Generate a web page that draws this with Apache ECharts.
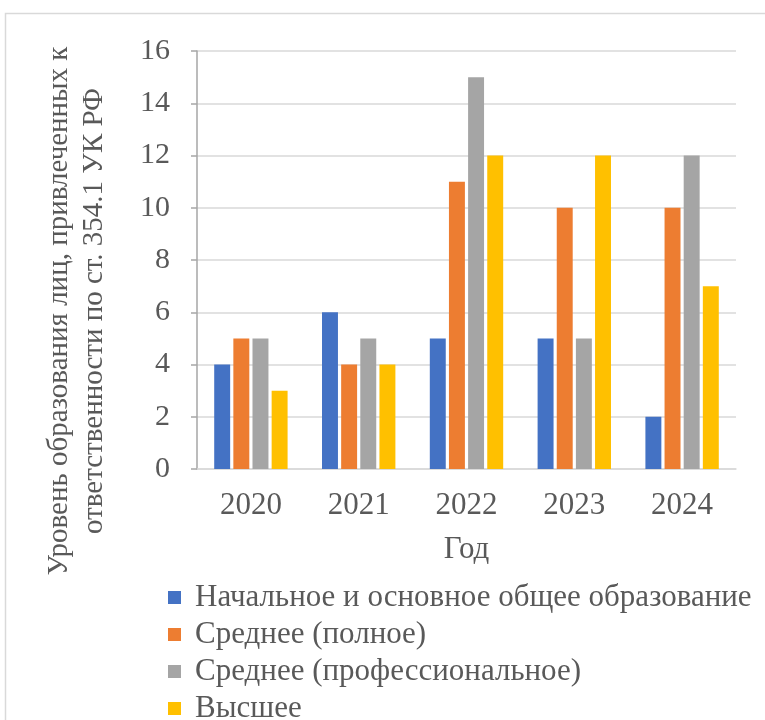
<!DOCTYPE html>
<html>
<head>
<meta charset="utf-8">
<script src="https://cdn.jsdelivr.net/npm/echarts@6/dist/echarts.min.js"></script>
<style>html,body{margin:0;padding:0;background:#fff;}#c{width:765px;height:720px;}</style>
</head>
<body>
<div id="c"></div>
<script>
const categories = ['2020', '2021', '2022', '2023', '2024'];
const seriesNames = [
  'Начальное и основное общее образование',
  'Среднее (полное)',
  'Среднее (профессиональное)',
  'Высшее'
];
const primaryBasic = [4, 6, 5, 5, 2];
const secondaryFull = [5, 4, 11, 10, 10];
const secondaryProf = [5, 5, 15, 5, 12];
const higher = [3, 4, 12, 12, 7];
const colors = ['#4472C4', '#ED7D31', '#A5A5A5', '#FFC000'];
const yAxisTitle = 'Уровень образования лиц, привлеченных к\nответственности по ст. 354.1 УК РФ';
const xAxisTitle = 'Год';

const font = 'Liberation Serif';
const textColor = '#595959';
const values = [primaryBasic, secondaryFull, secondaryProf, higher];
const option = {
  animation: false,
  textStyle: { fontFamily: font },
  graphic: [
    { type: 'rect', shape: { x: 5.5, y: 13.5, width: 800, height: 800 },
      style: { fill: 'none', stroke: '#d9d9d9', lineWidth: 1.5 }, silent: true },
    { type: 'text', x: 77, y: 311, rotation: Math.PI / 2,
      style: { text: yAxisTitle, fontFamily: font, fontSize: 29, fill: textColor,
               align: 'center', verticalAlign: 'middle', lineHeight: 35 } }
  ],
  grid: { left: 197, right: 29, top: 51, bottom: 251 },
  legend: {
    orient: 'vertical', left: 168, top: 582, height: 170, padding: 0,
    itemWidth: 13, itemHeight: 13, itemGap: 6, icon: 'rect',
    textStyle: { fontFamily: font, fontSize: 31, lineHeight: 28, color: textColor, padding: [0, 0, 0, 9] },
    data: seriesNames
  },
  xAxis: {
    type: 'category', data: categories,
    name: xAxisTitle, nameLocation: 'middle', nameGap: 65,
    nameTextStyle: { fontFamily: font, fontSize: 31, color: textColor },
    axisLine: { lineStyle: { color: '#d9d9d9', width: 1.5 } },
    axisTick: { show: false },
    axisLabel: { fontFamily: font, fontSize: 31, color: textColor, margin: 21 }
  },
  yAxis: {
    type: 'value', min: 0, max: 16, interval: 2,
    axisLine: { show: true, lineStyle: { color: '#a6a6a6', width: 1.5 } },
    axisTick: { show: true, length: 6, lineStyle: { color: '#a6a6a6', width: 1.5 } },
    splitLine: { lineStyle: { color: '#d9d9d9', width: 1.5 } },
    axisLabel: { fontFamily: font, fontSize: 30, color: textColor, margin: 27 }
  },
  series: values.map((v, i) => ({
    name: seriesNames[i], type: 'bar', data: v,
    itemStyle: { color: colors[i] },
    barWidth: '14.8%', barGap: '20%', barCategoryGap: '32%'
  }))
};

let done = false;
function draw() {
  if (done) return;
  done = true;
  const chart = echarts.init(document.getElementById('c'));
  chart.setOption(option);
}
if (document.fonts && document.fonts.load) {
  document.fonts.load('30px "Liberation Serif"', 'Год 2020').then(draw, draw);
  setTimeout(draw, 400);
} else {
  draw();
}
</script>
</body>
</html>
